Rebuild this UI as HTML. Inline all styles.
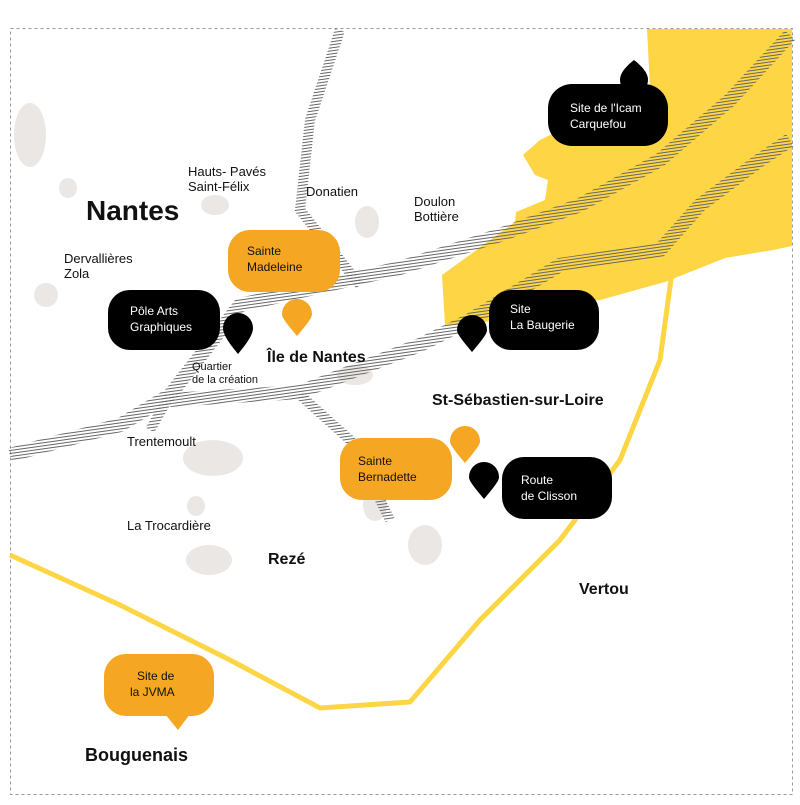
<!DOCTYPE html><html><head><style>
body{margin:0;width:800px;height:800px;background:#fff;overflow:hidden;font-family:"Liberation Sans",sans-serif}
</style></head><body>
<svg width="800" height="800" viewBox="0 0 800 800" xmlns="http://www.w3.org/2000/svg" font-family="Liberation Sans, sans-serif">
<defs>
<pattern id="h" width="4" height="3" patternUnits="userSpaceOnUse" patternTransform="rotate(-8)">
<rect width="4" height="1" fill="#666"/></pattern>
</defs>
<rect x="10.5" y="28.5" width="782" height="766" fill="none" stroke="#999" stroke-dasharray="3,3"/>
<!-- yellow zone -->
<path d="M647,29 L792,29 L792,246 L773,250 L725,258 L665,282 L600,300 L470,325 L445,325 L442,275 L515,222 L516,212 L545,200 L548,180 L535,175 L523,155 L540,140 L560,130 L640,110 L650,88 Z" fill="#fdd545"/>
<!-- gray blobs -->
<g fill="#ebe7e4">
<ellipse cx="30" cy="135" rx="16" ry="32"/>
<ellipse cx="68" cy="188" rx="9" ry="10"/>
<ellipse cx="215" cy="205" rx="14" ry="10"/>
<ellipse cx="367" cy="222" rx="12" ry="16"/>
<ellipse cx="46" cy="295" rx="12" ry="12"/>
<ellipse cx="213" cy="458" rx="30" ry="18"/>
<ellipse cx="196" cy="506" rx="9" ry="10"/>
<ellipse cx="209" cy="560" rx="23" ry="15"/>
<ellipse cx="425" cy="545" rx="17" ry="20"/>
<ellipse cx="355" cy="375" rx="18" ry="10"/>
<ellipse cx="375" cy="505" rx="12" ry="16"/>
</g>
<!-- rivers -->
<g fill="none" stroke="url(#h)">
<path d="M10,455 L120,425 L170,395 L240,305 L400,268 L500,235 L580,205 L660,160 L730,100 L790,35" stroke-width="14"/>
<path d="M170,400 L300,392 L420,345 L470,320 L560,265 L660,250 L700,205 L760,160 L790,140" stroke-width="14"/>
<path d="M340,30 L310,120 L300,210 L360,285" stroke-width="10"/>
<path d="M300,395 L350,440 L390,520" stroke-width="10"/>
<path d="M170,395 L150,430" stroke-width="10"/>
</g>
<!-- road -->
<path d="M10,555 L120,605 L230,660 L320,708 L410,702 L480,620 L560,540 L620,460 L660,360 L672,272" fill="none" stroke="#fdd545" stroke-width="5"/>
<!-- boxes -->
<rect x="548" y="84" width="120" height="62" rx="24" fill="#000"/>
<path d="M634,60 C624,68 620,74 620,80 A14,14 0 0 0 648,80 C648,74 644,68 634,60Z" fill="#000"/>
<text x="570" y="112" font-size="12" fill="#fff">Site de l'Icam</text>
<text x="570" y="128" font-size="12" fill="#fff">Carquefou</text>
<rect x="228" y="230" width="112" height="62" rx="22" fill="#f5a623"/>
<text x="247" y="255" font-size="12" fill="#111">Sainte</text>
<text x="247" y="271" font-size="12" fill="#111">Madeleine</text>
<rect x="108" y="290" width="112" height="60" rx="22" fill="#000"/>
<text x="130" y="315" font-size="12" fill="#fff">Pôle Arts</text>
<text x="130" y="331" font-size="12" fill="#fff">Graphiques</text>
<rect x="489" y="290" width="110" height="60" rx="22" fill="#000"/>
<text x="510" y="313" font-size="12" fill="#fff">Site</text>
<text x="510" y="329" font-size="12" fill="#fff">La Baugerie</text>
<rect x="340" y="438" width="112" height="62" rx="22" fill="#f5a623"/>
<text x="358" y="465" font-size="12" fill="#111">Sainte</text>
<text x="358" y="481" font-size="12" fill="#111">Bernadette</text>
<rect x="502" y="457" width="110" height="62" rx="22" fill="#000"/>
<text x="521" y="484" font-size="12" fill="#fff">Route</text>
<text x="521" y="500" font-size="12" fill="#fff">de Clisson</text>
<rect x="104" y="654" width="110" height="62" rx="22" fill="#f5a623"/>
<path d="M165,714 L178,730 L190,714 Z" fill="#f5a623"/>
<text x="137" y="680" font-size="12" fill="#111">Site de</text>
<text x="130" y="696" font-size="12" fill="#111">la JVMA</text>
<!-- pins -->
<g>
<path d="M238,354 C228,342 223,334 223,328 A15,15 0 0 1 253,328 C253,334 248,342 238,354Z" fill="#000"/>
<path d="M297,336 C287,324 282,318 282,314 A15,15 0 0 1 312,314 C312,318 307,324 297,336Z" fill="#f5a623"/>
<path d="M472,352 C462,340 457,334 457,330 A15,15 0 0 1 487,330 C487,334 482,340 472,352Z" fill="#000"/>
<path d="M465,463 C455,451 450,445 450,441 A15,15 0 0 1 480,441 C480,445 475,451 465,463Z" fill="#f5a623"/>
<path d="M484,499 C474,487 469,481 469,477 A15,15 0 0 1 499,477 C499,481 494,487 484,499Z" fill="#000"/>
</g>
<!-- labels -->
<g fill="#111" font-size="13">
<text x="188" y="176">Hauts- Pavés</text>
<text x="188" y="191">Saint-Félix</text>
<text x="306" y="196">Donatien</text>
<text x="414" y="206">Doulon</text>
<text x="414" y="221">Bottière</text>
<text x="64" y="263">Dervallières</text>
<text x="64" y="278">Zola</text>
<text x="192" y="370" font-size="11">Quartier</text>
<text x="192" y="383" font-size="11">de la création</text>
<text x="127" y="446">Trentemoult</text>
<text x="127" y="530">La Trocardière</text>
</g>
<g fill="#111" font-weight="bold">
<text x="86" y="220" font-size="28">Nantes</text>
<text x="267" y="362" font-size="16">Île de Nantes</text>
<text x="432" y="405" font-size="16">St-Sébastien-sur-Loire</text>
<text x="268" y="564" font-size="16">Rezé</text>
<text x="579" y="594" font-size="16">Vertou</text>
<text x="85" y="761" font-size="18">Bouguenais</text>
</g>
</svg>
</body></html>
